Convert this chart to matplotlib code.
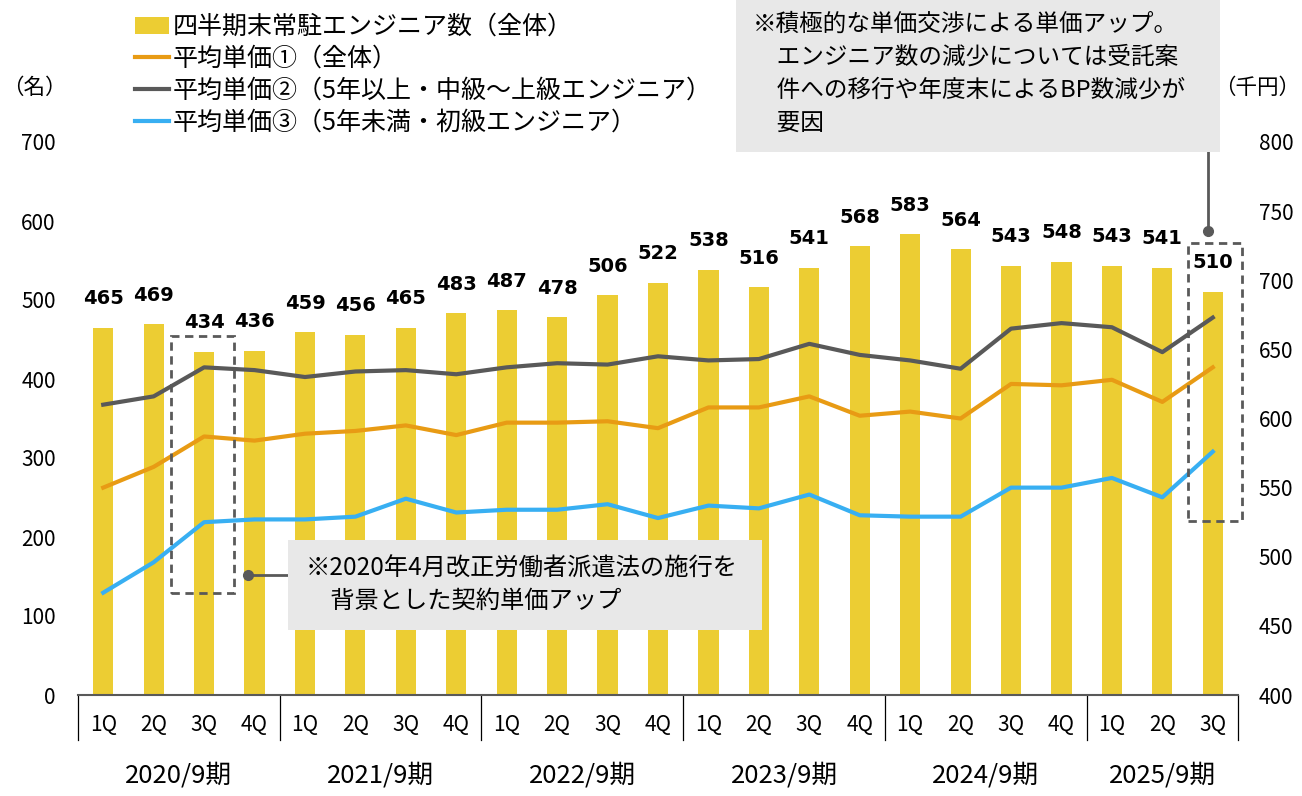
import matplotlib
matplotlib.use("Agg")
import matplotlib.pyplot as plt
from matplotlib.patches import Rectangle
from matplotlib.lines import Line2D
import matplotlib.transforms as mtransforms

plt.rcParams['font.family'] = ['Noto Sans CJK JP', 'DejaVu Sans']

# データ
years = ['2020/9期', '2021/9期', '2022/9期', '2023/9期', '2024/9期', '2025/9期']
quarters = ['1Q', '2Q', '3Q', '4Q'] * 5 + ['1Q', '2Q', '3Q']
engineers = [465, 469, 434, 436, 459, 456, 465, 483, 487, 478, 506, 522,
             538, 516, 541, 568, 583, 564, 543, 548, 543, 541, 510]
price_all = [550, 565, 587, 584, 589, 591, 595, 588, 597, 597, 598, 593,
             608, 608, 616, 602, 605, 600, 625, 624, 628, 612, 637]
price_senior = [610, 616, 637, 635, 630, 634, 635, 632, 637, 640, 639, 645,
                642, 643, 654, 646, 642, 636, 665, 669, 666, 648, 673]
price_junior = [474, 496, 525, 527, 527, 529, 542, 532, 534, 534, 538, 528,
                537, 535, 545, 530, 529, 529, 550, 550, 557, 543, 576]

c_bar = '#ECCD33'
c_orange = '#E89B14'
c_gray = '#595959'
c_blue = '#38AFF2'

W, H = 1302, 796
fig = plt.figure(figsize=(W / 100, H / 100), dpi=100)


def fx(x):
    return x / W


def fy(y):
    return 1 - y / H


ax = fig.add_axes([fx(78), fy(695), fx(1238) - fx(78), fy(142) - fy(695)])
ax2 = ax.twinx()

x = list(range(len(engineers)))
bars = ax.bar(x, engineers, width=0.4, color=c_bar, zorder=1)
ax.set_xlim(-0.5, len(x) - 0.5)
ax.set_ylim(0, 700)
ax.set_yticks(range(0, 701, 100))
ax.tick_params(axis='y', length=0, labelsize=15, pad=16)
ax.set_xticks(x)
ax.set_xticklabels(quarters)
ax.tick_params(axis='x', length=0, labelsize=15, pad=14)
for s in ['top', 'right', 'left']:
    ax.spines[s].set_visible(False)
ax.spines['bottom'].set_color(c_gray)
ax.spines['bottom'].set_linewidth(1.5)

for xi, v in zip(x, engineers):
    ax.annotate(str(v), (xi, v), xytext=(0, 21), textcoords='offset points',
                ha='center', va='center', fontsize=14, fontweight='bold',
                family='DejaVu Sans')

# 区切り線と年度ラベル
tr = mtransforms.blended_transform_factory(ax.transData, ax.transAxes)
bounds = [-0.5, 3.5, 7.5, 11.5, 15.5, 19.5, 22.5]
for b in bounds:
    ax.plot([b, b], [0, -0.082], color='black', lw=0.9, transform=tr, clip_on=False)
for i, yl in enumerate(years):
    cx = (bounds[i] + bounds[i + 1]) / 2
    ax.text(cx, -0.145, yl, transform=tr, ha='center', va='center', fontsize=18.5)

l1, = ax2.plot(x, price_all, color=c_orange, lw=3, zorder=3)
l2, = ax2.plot(x, price_senior, color=c_gray, lw=3, zorder=3)
l3, = ax2.plot(x, price_junior, color=c_blue, lw=3, zorder=3)
ax2.set_ylim(400, 800)
ax2.set_yticks(range(400, 801, 50))
ax2.tick_params(axis='y', length=0, labelsize=15, pad=15)
for s in ax2.spines.values():
    s.set_visible(False)

# 点線の枠
ax2.add_patch(Rectangle((1.35, 400 + 129 * 400 / 700), 1.24, (454 - 129) * 400 / 700,
                        fill=False, ls=(0, (3, 2)), lw=2, ec=c_gray, zorder=5,
                        clip_on=False))
ax2.add_patch(Rectangle((21.51, 400 + 220 * 400 / 700), 1.07, (572 - 220) * 400 / 700,
                        fill=False, ls=(0, (3, 2)), lw=2, ec=c_gray, zorder=5,
                        clip_on=False))

# 注記ボックス
fig.patches.append(Rectangle((fx(288), fy(630)), fx(762) - fx(288), fy(540) - fy(630),
                             transform=fig.transFigure, fc='#E8E8E8', ec='none', zorder=6))
fig.text(fx(306), fy(569), '※2020年4月改正労働者派遣法の施行を', fontsize=17.5,
         va='center', zorder=7)
fig.text(fx(306), fy(601), '\u3000背景とした契約単価アップ', fontsize=17.5,
         va='center', zorder=7)
fig.lines.append(Line2D([fx(248), fx(288)], [fy(575), fy(575)], transform=fig.transFigure,
                        color=c_gray, lw=2, zorder=6))
fig.lines.append(Line2D([fx(248)], [fy(575)], transform=fig.transFigure, marker='o',
                        ms=7, color=c_gray, zorder=6))

fig.patches.append(Rectangle((fx(736), fy(152)), fx(1220) - fx(736), fy(0) - fy(152),
                             transform=fig.transFigure, fc='#E8E8E8', ec='none', zorder=6))
note2 = ['※積極的な単価交渉による単価アップ。',
         '\u3000エンジニア数の減少については受託案',
         '\u3000件への移行や年度末によるBP数減少が',
         '\u3000要因']
for i, t in enumerate(note2):
    fig.text(fx(753), fy(24 + i * 33), t, fontsize=17, va='center', zorder=7)
fig.lines.append(Line2D([fx(1208), fx(1208)], [fy(152), fy(231)], transform=fig.transFigure,
                        color=c_gray, lw=2, zorder=6))
fig.lines.append(Line2D([fx(1208)], [fy(231)], transform=fig.transFigure, marker='o',
                        ms=7, color=c_gray, zorder=6))

# 単位
fig.text(fx(2), fy(88), '（名）', fontsize=15.5, ha='left', va='center')
fig.text(fx(1300), fy(88), '（千円）', fontsize=15.5, ha='right', va='center')

# 凡例
fig.legend([bars, l1, l2, l3],
           ['四半期末常駐エンジニア数（全体）', '平均単価①（全体）',
            '平均単価②（5年以上・中級～上級エンジニア）',
            '平均単価③（5年未満・初級エンジニア）'],
           loc='upper left', bbox_to_anchor=(fx(125), fy(4)), frameon=False,
           fontsize=18, handlelength=1.35, handletextpad=0.15, labelspacing=0.24,
           borderaxespad=0)

fig.savefig('out.png', dpi=100)
